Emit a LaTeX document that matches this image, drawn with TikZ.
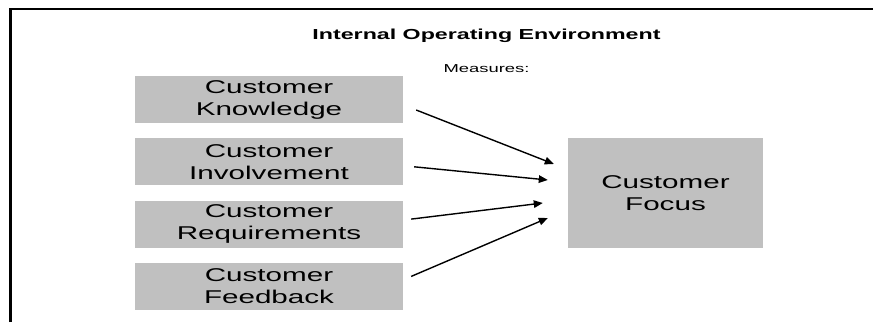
\documentclass[tikz,border=0pt]{standalone}
\usepackage{fontspec}
\setmainfont[FakeStretch=1.6]{Liberation Sans}
\usetikzlibrary{arrows.meta}
\definecolor{boxgray}{HTML}{C0C0C0}
\begin{document}
\begin{tikzpicture}[x=1pt,y=-1pt]
        \tikzstyle{measure}=[fill=boxgray,minimum width=268pt,minimum height=47pt,inner sep=0pt,align=center,font=\fontsize{18.5}{22}\selectfont]
        \tikzstyle{edge}=[draw, line width=1.4pt, -{Triangle[length=9pt,width=7.5pt]}]
        \useasboundingbox (0,0) rectangle (873,322);
        % frame
        \draw[line width=2.6pt] (10.5,322) -- (10.5,9) -- (873,9);
        \begin{scope}
                \node [anchor=base,font=\bfseries\fontsize{14.5}{17}\selectfont] (title) at (486.5,39) {Internal Operating Environment};
                \node [anchor=base,font=\fontsize{11.5}{14}\selectfont] (meas) at (486.5,72) {Measures:};
                \node [measure] (know) at (269,99.5) {Customer\\Knowledge};
                \node [measure] (invo) at (269,161.8) {Customer\\Involvement};
                \node [measure] (requ) at (269,224.1) {Customer\\Requirements};
                \node [measure] (feed) at (269,286.4) {Customer\\Feedback};
                \node [measure,minimum width=195pt,minimum height=110pt] (focus) at (665.5,193) {Customer\\Focus};
                \path[edge] ([shift={(13,10.5)}]know.east) -- ([shift={(-14,-29)}]focus.west);
                \path[edge] ([shift={(11,5)}]invo.east) -- ([shift={(-20,-13)}]focus.west);
                \path[edge] ([shift={(8,-5)}]requ.east) -- ([shift={(-25,10)}]focus.west);
                \path[edge] ([shift={(8,-10)}]feed.east) -- ([shift={(-20,25)}]focus.west);
        \end{scope}
\end{tikzpicture}
\end{document}
